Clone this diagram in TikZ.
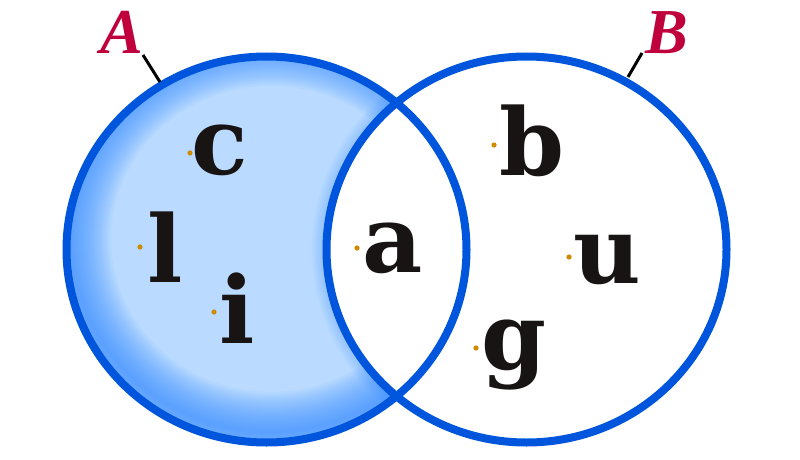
\documentclass[tikz,border=0pt]{standalone}
\usepackage{fontspec}
\setmainfont{DejaVu Serif}
\newfontfamily\labfont{Liberation Serif}
\definecolor{ringblue}{RGB}{0,85,221}
\definecolor{fillin}{RGB}{186,219,255}
\definecolor{glowc}{RGB}{50,140,255}
\definecolor{ink}{RGB}{24,20,20}
\definecolor{crim}{RGB}{192,0,60}
\definecolor{dotc}{RGB}{206,138,0}
\begin{document}
\begin{tikzpicture}[x=1pt,y=-1pt,
  letter/.style={font=\fontsize{93}{93}\selectfont\bfseries, text=ink, inner sep=0pt, anchor=base},
  setlabel/.style={font=\labfont\fontsize{64}{64}\selectfont\bfseries\itshape, text=crim, inner sep=0pt, anchor=base},
  ring/.style={draw=ringblue, line width=8pt},
  tickline/.style={draw=black, line width=3pt},
  anchordot/.style={fill=dotc},
  glow/.style={draw=glowc, opacity=0.05},
  glowsoft/.style={draw=glowc, opacity=0.035}]
\useasboundingbox (0,0) rectangle (800,460);
\fill[white] (0,0) rectangle (800,460);
\coordinate (L) at (266.5,249.5);
\coordinate (R) at (526.5,249.5);
\coordinate (Lg) at (271,239);
% shaded crescent A minus B
\begin{scope}
  \clip (L) ellipse [x radius=200, y radius=193];
  \fill[fillin] (L) ellipse [x radius=200, y radius=193];
  \foreach \k in {1,...,20} {
    \pgfmathsetmacro\w{4*\k}
    \draw[glow, line width=\w pt] (Lg) ellipse [x radius=200, y radius=193];
  }
  \foreach \k in {1,...,10} {
    \pgfmathsetmacro\w{3*\k}
    \draw[glowsoft, line width=\w pt] (R) ellipse [x radius=200, y radius=193];
  }
  \fill[white] (R) ellipse [x radius=200, y radius=193];
\end{scope}
% rings
\draw[ring] (L) ellipse [x radius=200, y radius=193];
\draw[ring] (R) ellipse [x radius=200, y radius=193];
% set labels
\node[setlabel] (A) at (122,53) {A};
\node[setlabel] (B) at (667,53) {B};
\coordinate (Aend) at (143,55);
\coordinate (Atip) at (160,82);
\coordinate (Bend) at (642,53);
\coordinate (Btip) at (628,77);
\draw[tickline] (Aend) -- (Atip);
\draw[tickline] (Bend) -- (Btip);
% elements
\node[letter] (c) at (220,174) {c};
\node[letter] (l) at (165,282) {l};
\node[letter] (i) at (237,343) {i};
\node[letter] (a) at (393,272) {a};
\node[letter] (b) at (532,175) {b};
\node[letter] (u) at (607,283) {u};
\node[letter] (g) at (514,369) {g};
% anchor dots
\fill[anchordot] (190,153) circle [radius=2.6pt];
\fill[anchordot] (140,247) circle [radius=2.6pt];
\fill[anchordot] (214,312) circle [radius=2.6pt];
\fill[anchordot] (357,248) circle [radius=2.6pt];
\fill[anchordot] (494,145) circle [radius=2.6pt];
\fill[anchordot] (569,257) circle [radius=2.6pt];
\fill[anchordot] (476,348) circle [radius=2.6pt];
\end{tikzpicture}
\end{document}
